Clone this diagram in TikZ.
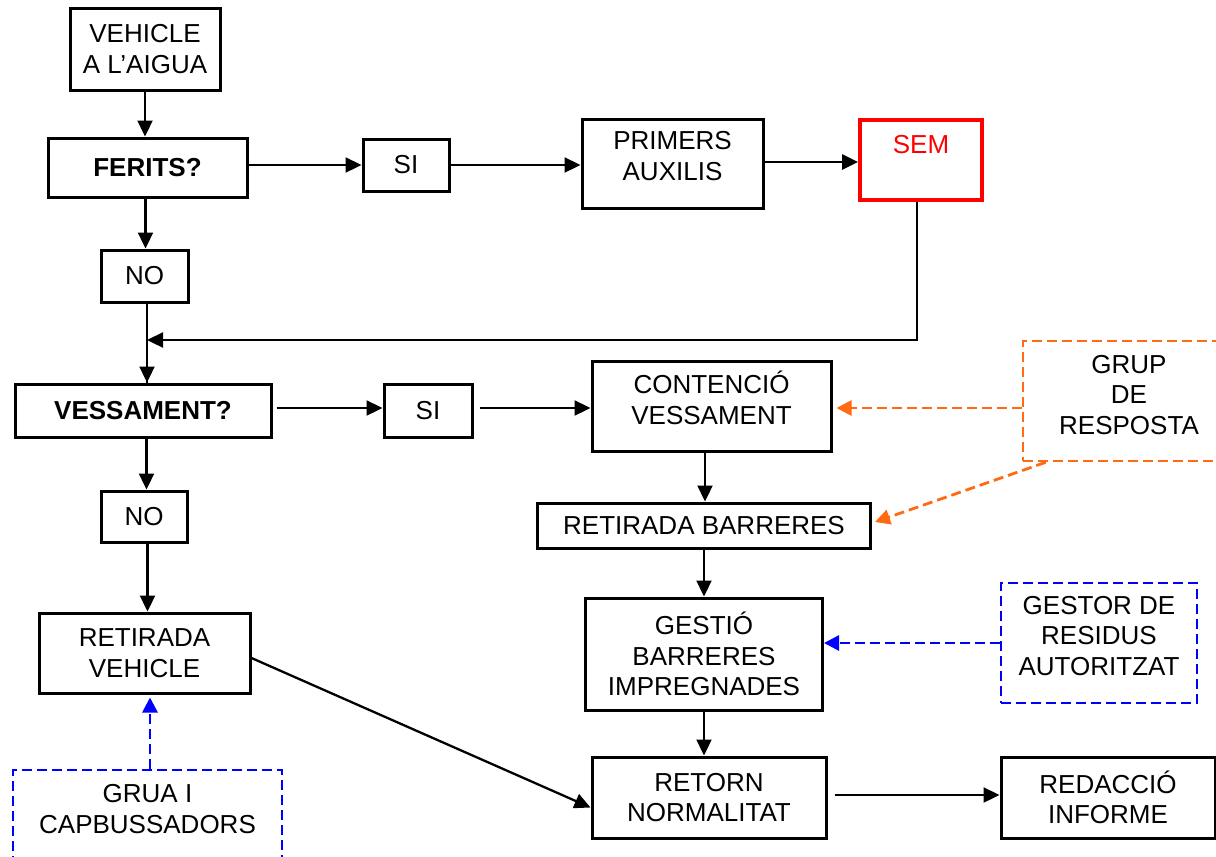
\documentclass[tikz,border=0pt]{standalone}
\usepackage{fontspec}
\setmainfont{Liberation Sans}
\usetikzlibrary{arrows.meta}
\definecolor{orangec}{HTML}{FF6A13}
\definecolor{bluec}{HTML}{0000FF}
\definecolor{redc}{HTML}{FF0000}
\begin{document}
\begin{tikzpicture}[x=1pt,y=-1pt,
  box/.style={draw, line width=3pt, inner sep=0pt, align=center, font=\fontsize{26}{30.5}\selectfont},
  dbox/.style={box, line width=2.6pt, dash pattern=on 10pt off 5pt},
  arr/.style={line width=2.3pt, -{Triangle[length=16pt,width=15pt]}},
  darr/.style={line width=2.8pt, dash pattern=on 10pt off 5pt, -{Triangle[length=15pt,width=15pt]}},
]
\useasboundingbox (0,0) rectangle (1216,857);
\clip (0,0) rectangle (1216,857);

% nodes
\node[box, minimum width=150pt, minimum height=82pt] (veh) at (145,49) {VEHICLE\\A L’AIGUA};
\node[box, minimum width=199pt, minimum height=59pt] (ferits) at (147.5,167.5) {\bfseries FERITS?};
\node[box, minimum width=86pt, minimum height=52pt] (si1) at (406,165) {SI};
\node[box, minimum width=181pt, minimum height=89pt, text depth=15pt] (prim) at (672.5,163.5) {PRIMERS\\AUXILIS};
\node[box, draw=redc, text=redc, line width=3.8pt, minimum width=122pt, minimum height=80pt] (sem) at (921,160) {SEM\\\mbox{}};
\node[box, minimum width=87pt, minimum height=52pt] (no1) at (144.5,276) {NO};

\node[box, minimum width=256pt, minimum height=53pt] (vess) at (143,410.5) {\bfseries VESSAMENT?};
\node[box, minimum width=88pt, minimum height=53pt] (si2) at (428,410.5) {SI};
\node[box, minimum width=239pt, minimum height=90pt, text depth=17pt] (cont) at (711.5,406) {CONTENCIÓ\\VESSAMENT};
\node[dbox, draw=orangec, minimum width=212pt, minimum height=120pt, text depth=13pt] (grup) at (1129,401) {GRUP\\DE\\RESPOSTA};

\node[box, minimum width=86pt, minimum height=51pt] (no2) at (144,516.5) {NO};
\node[box, minimum width=333pt, minimum height=45pt] (retb) at (704,525.5) {RETIRADA BARRERES};

\node[box, minimum width=211pt, minimum height=80pt] (retv) at (144.5,653) {RETIRADA\\VEHICLE};
\node[box, minimum width=237pt, minimum height=112pt] (gest) at (704,654) {GESTIÓ\\BARRERES\\IMPREGNADES};
\node[dbox, draw=bluec, minimum width=196pt, minimum height=120pt, text depth=15pt] (gres) at (1099,643) {GESTOR DE\\RESIDUS\\AUTORITZAT};

\node[box, minimum width=234pt, minimum height=81pt] (retn) at (709,797.5) {RETORN\\NORMALITAT};
\node[box, minimum width=214pt, minimum height=81pt] (red) at (1108,797.5) {REDACCIÓ\\INFORME};
\node[dbox, draw=bluec, minimum width=269pt, minimum height=96pt, text depth=18pt] (grua) at (147.5,818) {GRUA I\\CAPBUSSADORS};

\coordinate (join) at (147,340);

% connectors
\draw[arr] (veh.south) -- (ferits.north -| veh.south);
\draw[arr] (ferits.east |- si1.west) -- (si1.west);
\draw[arr] (si1.east) -- (prim.west |- si1.east);
\draw[arr] ([yshift=1.5pt]prim.east) -- ([yshift=1.5pt]prim.east -| sem.west);
\draw[arr] ([xshift=1pt]ferits.south -| no1.north) -- ([xshift=1pt]no1.north);
\draw[line width=2.3pt] ([xshift=2.5pt]no1.south) -- ([xshift=2.5pt]no1.south |- vess.north);
\draw[arr] (join) -- (join |- vess.north);
\draw[arr] ([xshift=-4pt]sem.south) |- (join);

\draw[arr] ([xshift=4pt,yshift=2.5pt]vess.east) -- ([yshift=2.5pt]si2.west);
\draw[arr] ([xshift=6pt,yshift=2.5pt]si2.east) -- ([yshift=2.5pt]si2.east -| cont.west);
\draw[arr] ([xshift=3.5pt]vess.south) -- ([xshift=3.5pt]vess.south |- no2.north);
\draw[arr] ([xshift=3.5pt]no2.south) -- ([xshift=3.5pt]no2.south |- retv.north);

\draw[arr] ([xshift=-6.5pt]cont.south) -- ([xshift=-6.5pt]cont.south |- retb.north);
\draw[arr] (retb.south) -- (retb.south |- gest.north);
\draw[arr] (gest.south) -- (gest.south |- retn.north);
\draw[arr] ([yshift=-5pt]retv.east) -- ([yshift=-10pt]retn.west);
\draw[arr] ([xshift=7pt,yshift=2.5pt]retn.east) -- ([yshift=2.5pt]red.west);

\draw[darr, orangec] ([yshift=-7pt]grup.west) -- ([xshift=4pt,yshift=-7pt]grup.west -| cont.east);
\draw[darr, orangec] ([xshift=24pt]grup.south west) -- ([xshift=3pt,yshift=3.5pt]retb.east);
\draw[darr, bluec] (gres.west) -- ([xshift=0pt]gres.west -| gest.east);
\draw[darr, bluec] ([xshift=2.5pt]grua.north) -- ([xshift=2.5pt,yshift=-3pt]grua.north |- retv.south);
\end{tikzpicture}
\end{document}
